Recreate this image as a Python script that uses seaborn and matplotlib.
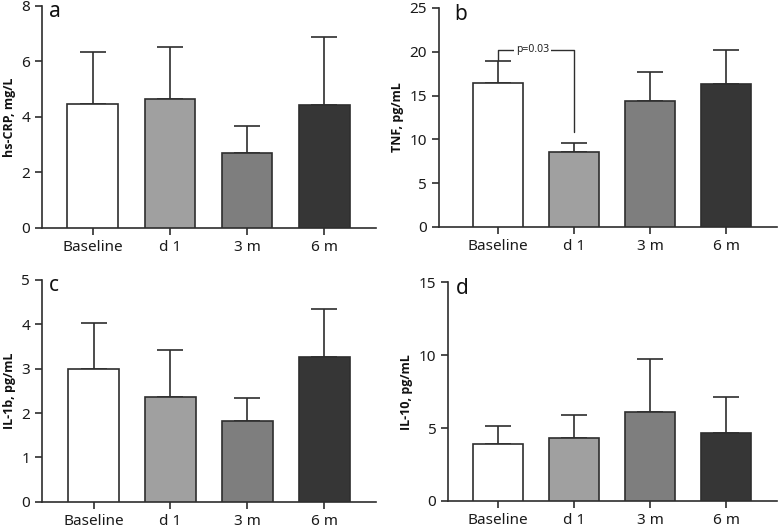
import numpy as np
import pandas as pd
import matplotlib
matplotlib.use("Agg")
import matplotlib.pyplot as plt
import seaborn as sns

sns.set_theme(style="ticks")
plt.rcParams['font.family'] = ['Noto Sans', 'DejaVu Sans']

categories = ["Baseline", "d 1", "3 m", "6 m"]
bar_colors = ["#ffffff", "#a0a0a0", "#7e7e7e", "#363636"]

crp_mean = [4.46, 4.64, 2.69, 4.41]
crp_upper = [6.35, 6.51, 3.68, 6.86]
tnf_mean = [16.4, 8.56, 14.35, 16.3]
tnf_upper = [18.95, 9.62, 17.7, 20.17]
il1b_mean = [3.0, 2.36, 1.83, 3.26]
il1b_upper = [4.02, 3.41, 2.34, 4.35]
il10_mean = [3.9, 4.34, 6.12, 4.68]
il10_upper = [5.12, 5.9, 9.77, 7.12]

panels = [
    dict(letter="a", label="hs-CRP, mg/L", mean=crp_mean, upper=crp_upper,
         ylim=8, yticks=[0, 2, 4, 6, 8], pos=[0.054, 0.570, 0.429, 0.419], xl=-0.66, lx=0.022),
    dict(letter="b", label="TNF, pg/mL", mean=tnf_mean, upper=tnf_upper,
         ylim=25, yticks=[0, 5, 10, 15, 20, 25], pos=[0.564, 0.572, 0.435, 0.413], xl=-0.78, lx=0.045),
    dict(letter="c", label="IL-1b, pg/mL", mean=il1b_mean, upper=il1b_upper,
         ylim=5, yticks=[0, 1, 2, 3, 4, 5], pos=[0.054, 0.053, 0.429, 0.419], xl=-0.67, lx=0.022),
    dict(letter="d", label="IL-10, pg/mL", mean=il10_mean, upper=il10_upper,
         ylim=15, yticks=[0, 5, 10, 15], pos=[0.576, 0.055, 0.423, 0.412], xl=-0.66, lx=0.025),
]

fig = plt.figure(figsize=(7.78, 5.30), dpi=100)
edge = "#2e2e2e"
for p in panels:
    ax = fig.add_axes(p["pos"])
    df = pd.DataFrame({"cat": categories, "val": p["mean"]})
    sns.barplot(data=df, x="cat", y="val", hue="cat", palette=bar_colors,
                order=categories, hue_order=categories, legend=False,
                width=0.66, edgecolor=edge, linewidth=1.2, ax=ax, zorder=3)
    means = np.array(p["mean"])
    ups = np.array(p["upper"])
    ax.errorbar(np.arange(4), means, yerr=[np.zeros(4), ups - means], fmt="none",
                ecolor=edge, elinewidth=1.2, capsize=9.5, capthick=1.2, zorder=2)
    ax.set_ylim(0, p["ylim"])
    ax.set_xlim(p["xl"], 3.67)
    ax.set_yticks(p["yticks"])
    ax.set_xlabel("")
    ax.set_ylabel(p["label"], fontsize=9, fontweight="bold", color="#111111", labelpad=4,
                  family=["Open Sans", "DejaVu Sans"])
    ax.tick_params(axis="both", labelsize=11, length=5, width=1.2, color=edge,
                   labelcolor="#1a1a1a")
    for s in ["top", "right"]:
        ax.spines[s].set_visible(False)
    for s in ["left", "bottom"]:
        ax.spines[s].set_linewidth(1.2)
        ax.spines[s].set_color(edge)
    ax.text(p["lx"], 1.02, p["letter"], transform=ax.transAxes,
            fontsize=15, va="top", ha="left", color="#111111")
    if p["letter"] == "b":
        ax.plot([0, 0, 1, 1], [19.0, 20.2, 20.2, 10.8], color=edge, lw=1.0, zorder=4)
        ax.text(0.45, 20.2, "p=0.03", fontsize=7.5, ha="center", va="center",
                color="#222222", zorder=5,
                bbox=dict(facecolor="white", edgecolor="none", pad=1.5))

fig.savefig("out.png", dpi=100)
